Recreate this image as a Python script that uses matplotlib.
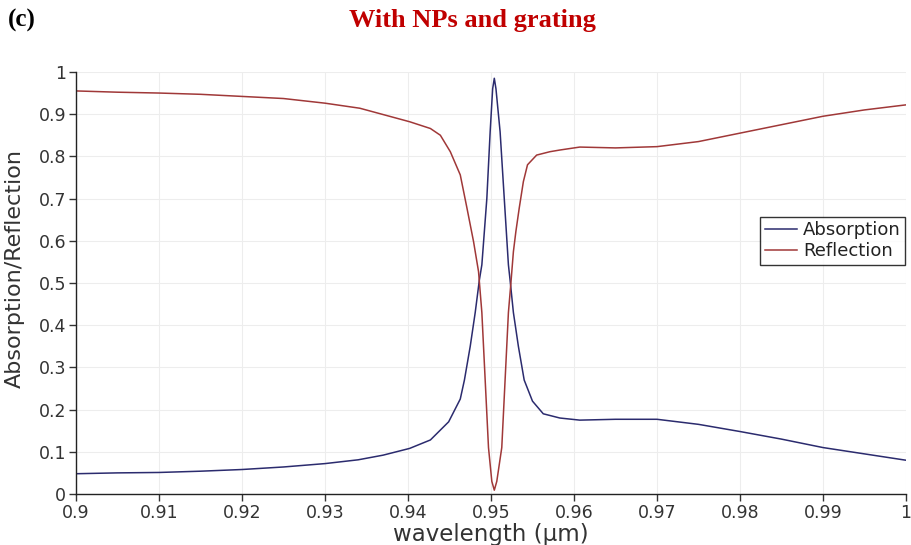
import matplotlib
matplotlib.use("Agg")
import matplotlib.pyplot as plt
import numpy as np

wl_abs = [0.900, 0.905, 0.910, 0.915, 0.920, 0.925, 0.930, 0.934, 0.937, 0.9402, 0.9427, 0.9449,
          0.9463, 0.9468, 0.9475, 0.9481, 0.9486, 0.9489, 0.9495, 0.9499, 0.9502, 0.9504, 0.9506,
          0.9511, 0.9516, 0.9521, 0.9523, 0.9527, 0.9533, 0.9540, 0.9550, 0.9563, 0.9583, 0.9607,
          0.965, 0.970, 0.975, 0.980, 0.985, 0.990, 0.995, 1.000]
absorption = [0.048, 0.050, 0.051, 0.054, 0.058, 0.064, 0.072, 0.081, 0.092, 0.108, 0.128, 0.171,
              0.225, 0.270, 0.350, 0.430, 0.507, 0.543, 0.700, 0.858, 0.960, 0.985, 0.960,
              0.858, 0.700, 0.543, 0.507, 0.430, 0.350, 0.270, 0.220, 0.190, 0.180, 0.175,
              0.177, 0.177, 0.165, 0.148, 0.130, 0.110, 0.095, 0.080]

wl_ref = [0.900, 0.905, 0.910, 0.915, 0.920, 0.925, 0.930, 0.9342, 0.9402, 0.9427, 0.9439, 0.9451,
          0.9463, 0.9471, 0.9479, 0.9485, 0.9489, 0.9493, 0.9497, 0.9501, 0.9504, 0.9507, 0.9513,
          0.9517, 0.9521, 0.9524, 0.9527, 0.9530, 0.9534, 0.9539, 0.9544, 0.9555, 0.9571, 0.9583,
          0.9607, 0.965, 0.970, 0.975, 0.980, 0.985, 0.990, 0.995, 1.000]
reflection = [0.955, 0.952, 0.950, 0.947, 0.942, 0.937, 0.926, 0.914, 0.882, 0.866, 0.850, 0.811,
              0.756, 0.678, 0.598, 0.527, 0.430, 0.270, 0.110, 0.030, 0.009, 0.030, 0.110,
              0.270, 0.430, 0.500, 0.574, 0.622, 0.677, 0.740, 0.780, 0.803, 0.811, 0.815,
              0.822, 0.820, 0.823, 0.835, 0.855, 0.875, 0.895, 0.910, 0.922]

xticks = [0.9, 0.91, 0.92, 0.93, 0.94, 0.95, 0.96, 0.97, 0.98, 0.99, 1.0]
xticklabels = ["0.9", "0.91", "0.92", "0.93", "0.94", "0.95", "0.96", "0.97", "0.98", "0.99", "1"]
yticks = [0, 0.1, 0.2, 0.3, 0.4, 0.5, 0.6, 0.7, 0.8, 0.9, 1.0]
yticklabels = ["0", "0.1", "0.2", "0.3", "0.4", "0.5", "0.6", "0.7", "0.8", "0.9", "1"]

fig = plt.figure(figsize=(9.11, 5.45), dpi=100)
ax = fig.add_axes([0.0834, 0.0936, 0.9111, 0.7744])

ax.plot(wl_abs, absorption, color="#2b2b6e", lw=1.1, label="Absorption")
ax.plot(wl_ref, reflection, color="#a03838", lw=1.1, label="Reflection")

ax.set_xlim(0.9, 1.0)
ax.set_ylim(0, 1.0)
ax.set_xticks(xticks)
ax.set_xticklabels(xticklabels)
ax.set_yticks(yticks)
ax.set_yticklabels(yticklabels)
ax.grid(True, color="#ededed", lw=0.8)
ax.set_axisbelow(True)
for s in ["top", "right"]:
    ax.spines[s].set_visible(False)
for s in ["left", "bottom"]:
    ax.spines[s].set_color("#222222")
    ax.spines[s].set_linewidth(1.0)
ax.tick_params(direction="out", length=5, width=1, labelsize=12.5, colors="#333333", pad=2)

ax.set_xlabel("wavelength (µm)", fontsize=16.5, color="#333333", labelpad=1)
ax.set_ylabel("Absorption/Reflection", fontsize=16, color="#333333")
ax.yaxis.set_label_coords(-0.062, 0.535)

leg = ax.legend(loc="center right", bbox_to_anchor=(1.0, 0.6), fontsize=13, frameon=True,
                fancybox=False, edgecolor="black", handlelength=1.8, handletextpad=0.3,
                borderpad=0.25, labelspacing=0.15, borderaxespad=0.05)
leg.get_frame().set_linewidth(1.0)
for t in leg.get_texts():
    t.set_color("#222222")

fig.text(0.009, 0.962, "(c)", fontsize=18, fontweight="bold", family="Liberation Serif",
         color="black", va="center", ha="left")
fig.text(0.519, 0.962, "With NPs and grating", fontsize=19, fontweight="bold",
         family="Liberation Serif", color="#c00000", va="center", ha="center")

fig.savefig("out.png", dpi=100)
